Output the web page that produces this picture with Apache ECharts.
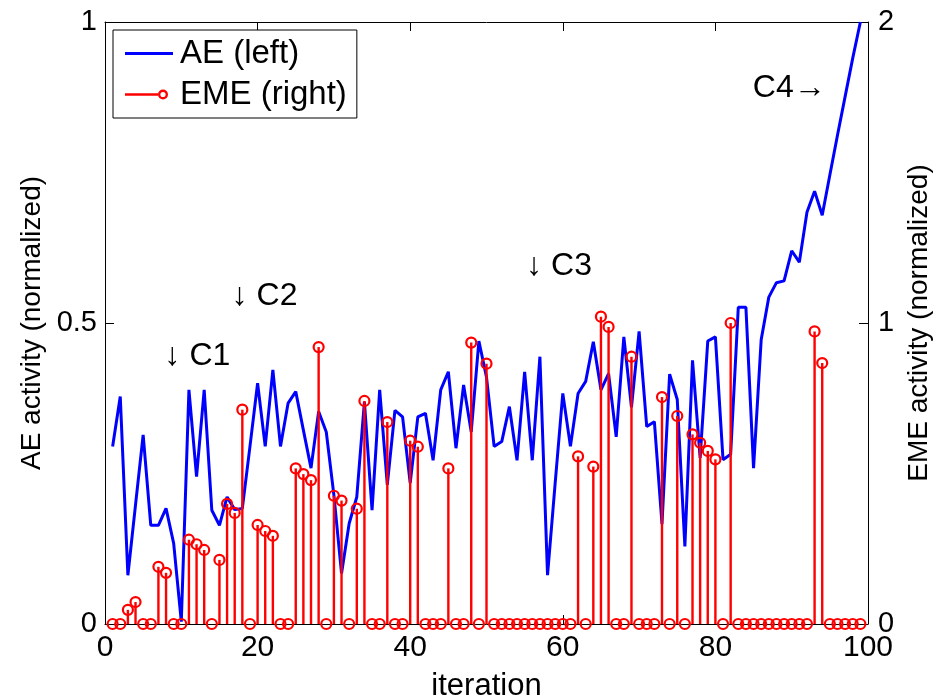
<!DOCTYPE html>
<html>
<head>
<meta charset="utf-8">
<script src="https://cdn.jsdelivr.net/npm/echarts@6/dist/echarts.min.js"></script>
<style>
html,body{margin:0;padding:0;background:#fff;}
#chart{width:933px;height:700px;}
</style>
</head>
<body>
<div id="chart"></div>
<script>
// ---- data ----
const aeValues = [
  0.295,0.378,0.081,0.198,0.314,0.164,0.164,0.192,0.134,0.004,
  0.389,0.245,0.389,0.189,0.164,0.211,0.190,0.192,0.295,0.400,
  0.295,0.422,0.295,0.367,0.386,0.322,0.259,0.353,0.319,0.214,
  0.084,0.167,0.211,0.369,0.189,0.389,0.231,0.355,0.344,0.234,
  0.344,0.350,0.272,0.389,0.419,0.292,0.397,0.319,0.470,0.410,
  0.295,0.303,0.361,0.272,0.419,0.272,0.444,0.081,0.234,0.383,
  0.295,0.383,0.403,0.469,0.389,0.416,0.311,0.477,0.360,0.486,
  0.328,0.336,0.166,0.415,0.373,0.129,0.438,0.276,0.470,0.477,
  0.273,0.282,0.526,0.526,0.259,0.472,0.543,0.567,0.570,0.620,
  0.601,0.684,0.719,0.679,0.746,0.812,0.876,0.940,1.000
];
const emeValues = [
  0,0,0.047,0.073,0,0,0.190,0.170,0,0,
  0.280,0.265,0.246,0,0.213,0.399,0.369,0.712,0,0.329,
  0.309,0.293,0,0,0.517,0.498,0.478,0.920,0,0.426,
  0.410,0,0.383,0.741,0,0,0.671,0,0,0.609,
  0.589,0,0,0,0.517,0,0,0.935,0,0.865,
  0,0,0,0,0,0,0,0,0,0,
  0,0.557,0,0.523,1.021,0.987,0,0,0.888,0,
  0,0,0.754,0,0.691,0,0.630,0.602,0.575,0.547,
  0,1.000,0,0,0,0,0,0,0,0,
  0,0,0.972,0.867,0,0,0,0,0
];
const iterations = aeValues.map((v, i) => i + 1);
const xTickLabels = ['0','20','40','60','80','100'];
const leftTickLabels = ['0','0.5','1'];
const rightTickLabels = ['0','1','2'];
const annotations = [
  ['\u2193 C1', 7.8, 0.445],
  ['\u2193 C2', 16.6, 0.545],
  ['\u2193 C3', 55.2, 0.594],
  ['C4\u2192', 84.9, 0.890]
];
const seriesNames = ['AE (left)', 'EME (right)'];

// ---- chart ----
const FONT = "'Liberation Sans', Helvetica, Arial, sans-serif";
const chart = echarts.init(document.getElementById('chart'), null, {renderer: 'canvas'});

const aeData = iterations.map((x, i) => [x, aeValues[i]]);
const emeData = iterations.map((x, i) => [x, emeValues[i]]);
const annData = annotations.map(a => [a[1], a[2], a[0]]);

const tickFmt = (labels, step) => (v) => {
  const idx = Math.round(v / step);
  return labels[idx] !== undefined ? labels[idx] : '';
};

const aeIcon = 'path://M0,0L0.01,0L0,0.01Z M0,5.6L48,5.6L48,8.4L0,8.4Z M48,14L47.99,14L48,13.99Z';
const emeIcon = 'path://M0,0L0.01,0L0,0.01Z M0,5.8L33,5.8L33,8.2L0,8.2Z M33,7A5,5 0 1,0 43,7A5,5 0 1,0 33,7Z M35.4,7A2.6,2.6 0 1,1 40.6,7A2.6,2.6 0 1,1 35.4,7Z M48,14L47.99,14L48,13.99Z';

function axisCommon() {
  return {
    axisLine: {show: true, onZero: false, lineStyle: {color: '#000', width: 1}},
    axisTick: {show: true, inside: true, length: 9, lineStyle: {color: '#000', width: 1}},
    splitLine: {show: false}
  };
}

chart.setOption({
  animation: false,
  backgroundColor: '#fff',
  textStyle: {fontFamily: FONT},
  grid: {left: 105, right: 65, top: 22, bottom: 76, containLabel: false, outerBoundsMode: 'none'},
  legend: {
    orient: 'vertical',
    left: 113,
    top: 30,
    padding: [7, 10, 7, 12],
    itemGap: 8,
    itemWidth: 48,
    itemHeight: 14,
    borderColor: '#000',
    borderWidth: 1,
    backgroundColor: '#fff',
    textStyle: {fontFamily: FONT, fontSize: 33, color: '#000', padding: [0, 0, 0, 2]},
    data: [
      {name: seriesNames[0], icon: aeIcon, itemStyle: {color: '#0000ff', borderWidth: 0, borderColor: 'transparent'}},
      {name: seriesNames[1], icon: emeIcon, itemStyle: {color: '#ff0000', borderWidth: 0, borderColor: 'transparent'}}
    ]
  },
  xAxis: [
    Object.assign({
      type: 'value', min: 0, max: 100, interval: 20, position: 'bottom',
      name: 'iteration', nameLocation: 'middle', nameGap: 47,
      nameTextStyle: {fontFamily: FONT, fontSize: 31, color: '#000'},
      axisLabel: {fontFamily: FONT, fontSize: 30, color: '#000', margin: 9, formatter: tickFmt(xTickLabels, 20)}
    }, axisCommon()),
    Object.assign({
      type: 'value', min: 0, max: 100, interval: 20, position: 'top',
      axisLabel: {show: false}
    }, axisCommon())
  ],
  yAxis: [
    Object.assign({
      type: 'value', min: 0, max: 1, interval: 0.5, position: 'left',
      name: 'AE activity (normalized)', nameLocation: 'middle', nameGap: 55, nameRotate: 90,
      nameTextStyle: {fontFamily: FONT, fontSize: 28, color: '#000'},
      axisLabel: {fontFamily: FONT, fontSize: 29, color: '#000', margin: 8, formatter: tickFmt(leftTickLabels, 0.5)}
    }, axisCommon()),
    Object.assign({
      type: 'value', min: 0, max: 2, interval: 1, position: 'right',
      name: 'EME activity (normalized)', nameLocation: 'middle', nameGap: 35, nameRotate: 90,
      nameTextStyle: {fontFamily: FONT, fontSize: 28, color: '#000'},
      axisLabel: {fontFamily: FONT, fontSize: 29, color: '#000', margin: 10, formatter: tickFmt(rightTickLabels, 1)}
    }, axisCommon())
  ],
  series: [
    {
      name: seriesNames[0],
      type: 'line',
      xAxisIndex: 0,
      yAxisIndex: 0,
      data: aeData,
      showSymbol: false,
      symbol: 'none',
      lineStyle: {color: '#0000ff', width: 3},
      itemStyle: {color: '#0000ff'},
      z: 2
    },
    {
      name: seriesNames[1],
      type: 'custom',
      xAxisIndex: 0,
      yAxisIndex: 1,
      data: emeData,
      encode: {x: 0, y: 1},
      itemStyle: {color: '#ff0000'},
      z: 3,
      renderItem: function (params, api) {
        const x = api.value(0), v = api.value(1);
        const p0 = api.coord([x, 0]);
        const p1 = api.coord([x, v]);
        return {
          type: 'group',
          children: [
            {type: 'line', shape: {x1: p0[0], y1: p0[1], x2: p1[0], y2: p1[1]},
             style: {stroke: '#ff0000', lineWidth: 2.4}},
            {type: 'circle', shape: {cx: p1[0], cy: p1[1], r: 5},
             style: {fill: 'rgba(0,0,0,0)', stroke: '#ff0000', lineWidth: 2.2}}
          ]
        };
      }
    },
    {
      name: 'annotations',
      type: 'scatter',
      xAxisIndex: 0,
      yAxisIndex: 0,
      data: annData,
      symbolSize: 0,
      silent: true,
      z: 5,
      itemStyle: {opacity: 1},
      label: {
        show: true,
        position: 'right',
        distance: 0,
        fontFamily: FONT,
        fontSize: 32,
        color: '#000',
        opacity: 1,
        formatter: p => p.value[2]
      }
    }
  ]
});
</script>
</body>
</html>
